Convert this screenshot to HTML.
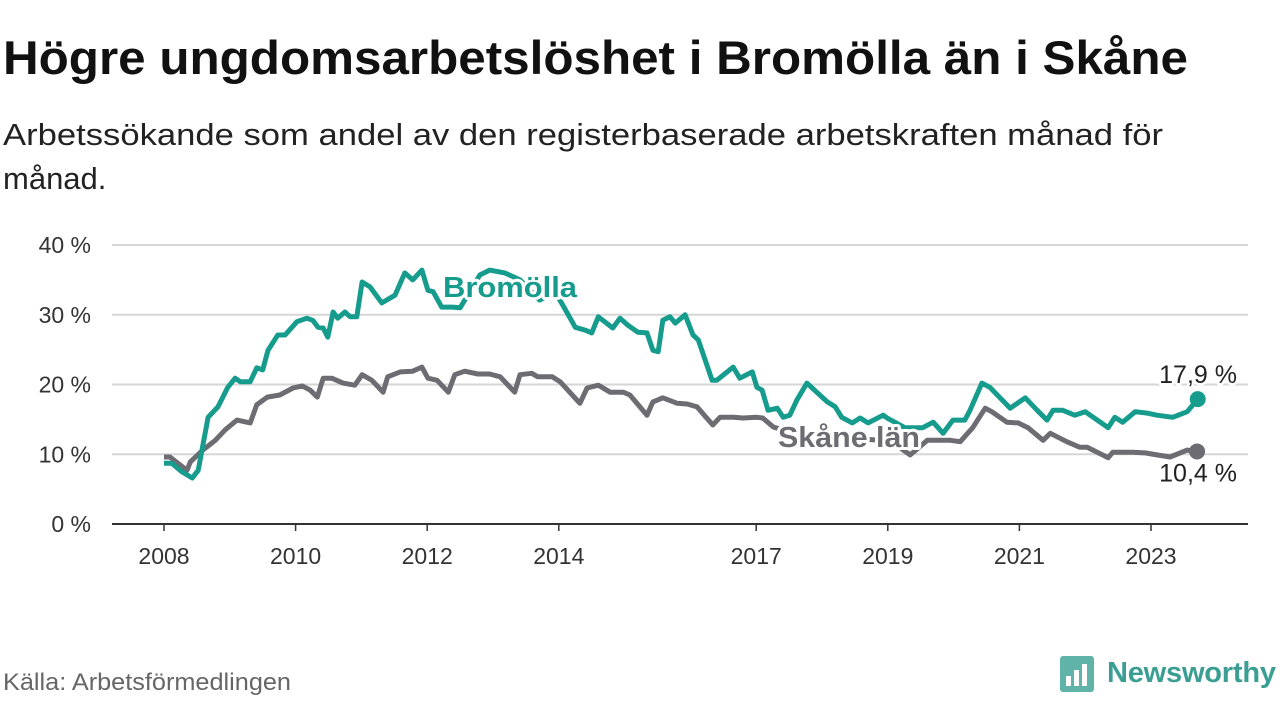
<!DOCTYPE html>
<html><head><meta charset="utf-8"><style>
body{margin:0;background:#fff;width:1280px;height:720px;overflow:hidden;font-family:"Liberation Sans",sans-serif}
</style></head><body>
<svg width="1280" height="720" viewBox="0 0 1280 720" xmlns="http://www.w3.org/2000/svg">
<text x="3" y="74" font-size="47" font-weight="bold" fill="#111" textLength="1185" lengthAdjust="spacingAndGlyphs">Högre ungdomsarbetslöshet i Bromölla än i Skåne</text>
<text x="3" y="145" font-size="31" fill="#222" textLength="1160" lengthAdjust="spacingAndGlyphs">Arbetssökande som andel av den registerbaserade arbetskraften månad för</text>
<text x="3" y="189" font-size="31" fill="#222">månad.</text>
<g id="grid"></g>
<g id="yticks"></g>
<g id="xticks"></g>
<g id="series"></g>
<text x="3" y="690" font-size="24" fill="#666" textLength="288" lengthAdjust="spacingAndGlyphs">Källa: Arbetsförmedlingen</text>
<g>
<rect x="1060" y="656" width="34" height="36" rx="3" fill="#5fb3a8"/>
<rect x="1066" y="676" width="5" height="10" fill="#fff"/><rect x="1074" y="670" width="5" height="16" fill="#fff"/><rect x="1082" y="664" width="5" height="22" fill="#fff"/>
<text x="1107" y="682" font-size="29" font-weight="bold" fill="#3a9e92" textLength="169">Newsworthy</text>
</g>
</svg>
<script>
const yTicks=[0,10,20,30,40];
const xTickYears=[2008,2010,2012,2014,2017,2019,2021,2023];
const bromDates=[2008.0,2008.12,2008.27,2008.43,2008.52,2008.67,2008.82,2008.97,2009.08,2009.16,2009.31,2009.41,2009.50,2009.58,2009.73,2009.84,2010.02,2010.17,2010.26,2010.34,2010.42,2010.49,2010.57,2010.64,2010.75,2010.83,2010.93,2011.01,2011.13,2011.31,2011.51,2011.66,2011.78,2011.92,2012.01,2012.09,2012.22,2012.38,2012.50,2012.80,2012.95,2013.18,2013.41,2013.71,2013.94,2014.06,2014.25,2014.40,2014.50,2014.60,2014.82,2014.93,2015.05,2015.20,2015.34,2015.43,2015.51,2015.58,2015.69,2015.77,2015.92,2016.04,2016.12,2016.33,2016.40,2016.65,2016.75,2016.94,2017.01,2017.09,2017.18,2017.32,2017.41,2017.51,2017.62,2017.77,2017.92,2018.08,2018.20,2018.30,2018.46,2018.58,2018.70,2018.93,2018.99,2019.26,2019.53,2019.69,2019.84,2019.99,2020.17,2020.25,2020.43,2020.55,2020.86,2021.09,2021.27,2021.42,2021.51,2021.66,2021.84,2022.00,2022.35,2022.45,2022.57,2022.76,2022.94,2023.09,2023.33,2023.55,2023.71];
const bromValues=[8.7,8.7,7.5,6.6,7.7,15.3,16.8,19.6,20.9,20.4,20.4,22.4,22.1,24.9,27.1,27.1,29.0,29.5,29.2,28.2,28.1,26.8,30.4,29.5,30.4,29.7,29.7,34.7,34.0,31.7,32.8,36.0,35.0,36.4,33.5,33.3,31.1,31.1,31.0,35.7,36.4,36.0,35.0,32.1,33.3,31.4,28.2,27.8,27.4,29.7,28.1,29.5,28.5,27.5,27.4,24.9,24.7,29.2,29.7,28.8,30.0,27.1,26.4,20.6,20.6,22.5,20.9,21.8,19.6,19.2,16.3,16.6,15.3,15.6,17.8,20.2,18.9,17.5,16.8,15.3,14.5,15.2,14.5,15.6,15.2,13.8,13.8,14.6,13.0,14.9,14.9,16.3,20.2,19.6,16.6,18.1,16.3,14.9,16.3,16.3,15.6,16.1,13.8,15.3,14.6,16.1,15.9,15.6,15.3,16.1,17.9];
const skaneDates=[2008.0,2008.09,2008.35,2008.40,2008.59,2008.78,2008.93,2009.11,2009.31,2009.41,2009.57,2009.76,2009.96,2010.10,2010.22,2010.33,2010.42,2010.55,2010.72,2010.90,2011.01,2011.16,2011.33,2011.40,2011.59,2011.78,2011.92,2012.01,2012.15,2012.32,2012.42,2012.57,2012.77,2012.95,2013.11,2013.33,2013.41,2013.59,2013.68,2013.90,2014.02,2014.32,2014.43,2014.60,2014.78,2014.98,2015.08,2015.34,2015.43,2015.58,2015.80,2015.95,2016.10,2016.34,2016.45,2016.65,2016.80,2017.01,2017.10,2017.26,2017.51,2017.97,2018.43,2018.88,2019.19,2019.34,2019.60,2019.95,2020.10,2020.29,2020.48,2020.58,2020.81,2020.98,2021.13,2021.36,2021.47,2021.72,2021.92,2022.03,2022.35,2022.42,2022.73,2022.91,2023.09,2023.29,2023.55,2023.70];
const skaneValues=[9.6,9.6,7.7,8.9,10.6,12.0,13.5,14.9,14.5,17.1,18.2,18.5,19.5,19.8,19.2,18.2,20.9,20.9,20.2,19.9,21.4,20.6,18.9,21.1,21.8,21.9,22.5,20.9,20.6,18.9,21.4,21.9,21.5,21.5,21.1,18.9,21.4,21.6,21.1,21.1,20.4,17.3,19.5,19.9,18.9,18.9,18.5,15.6,17.5,18.1,17.3,17.2,16.8,14.2,15.3,15.3,15.2,15.3,15.2,13.9,13.2,12.8,12.3,12.0,10.9,9.9,12.0,12.0,11.8,13.8,16.6,16.1,14.6,14.5,13.8,12.0,13.0,11.8,11.0,11.0,9.5,10.3,10.3,10.2,9.9,9.6,10.6,10.4];
const NS='http://www.w3.org/2000/svg';
const X=yr=>164+(yr-2008)*65.8;
const Y=v=>524-v*6.975;
function mk(tag,attrs,parent,text){const e=document.createElementNS(NS,tag);for(const k in attrs)e.setAttribute(k,attrs[k]);if(text!==undefined)e.textContent=text;parent.appendChild(e);return e;}
const grid=document.getElementById('grid'),yt=document.getElementById('yticks'),xt=document.getElementById('xticks'),ser=document.getElementById('series');
yTicks.forEach(v=>{
 if(v>0){const g=mk('line',{x1:112,x2:1248,y1:Y(v),y2:Y(v),stroke:'#d6d6d6','stroke-width':2},grid);
 
 }
 const t=mk('text',{x:91,y:Y(v)+8,'text-anchor':'end','font-size':23,fill:'#333'},yt,v+' %');
 
 
});
const ax=mk('line',{x1:112,x2:1248,y1:Y(0),y2:Y(0),stroke:'#333','stroke-width':2},xt);


xTickYears.forEach(yr=>{
 const tk=mk('line',{x1:X(yr),x2:X(yr),y1:Y(0),y2:Y(0)+7,stroke:'#333','stroke-width':1.5},xt);
 
 
 const t=mk('text',{x:X(yr),y:564,'text-anchor':'middle','font-size':23,fill:'#333'},xt,String(yr));
 
 
});
function line(dates,vals,color,name){
 const d=dates.map((t,i)=>(i?'L':'M')+X(t).toFixed(1)+' '+Y(vals[i]).toFixed(1)).join(' ');
 const p=mk('path',{d:d,fill:'none',stroke:color,'stroke-width':5,'stroke-linejoin':'round'},ser);
 
 
 const n=dates.length-1;
 const c=mk('circle',{cx:X(dates[n]),cy:Y(vals[n]),r:8,fill:color},ser);
 
 
}
line(skaneDates,skaneValues,'#6d6c72','skane');
line(bromDates,bromValues,'#169c8d','bromolla');
function lbl(x,y,txt,color,name,size,bold,anchor,len){
 const a={x:x,y:y,'font-size':size,'font-weight':bold?'bold':'normal',fill:color,stroke:'#fff','stroke-width':bold?6:5,'paint-order':'stroke','stroke-linejoin':'round','text-anchor':anchor||'start'};
 if(len){a.textLength=len;a.lengthAdjust='spacingAndGlyphs';}
 const t=mk('text',a,ser,txt);
 
 
}
lbl(443,297,'Bromölla','#169c8d','bromolla-label',29,true,'start',134);
lbl(778,447,'Skåne län','#6d6c72','skane-label',29,true,'start',142);
const nb=bromValues.length-1,ns=skaneValues.length-1;
lbl(1237,Y(bromValues[nb])-16,bromValues[nb].toFixed(1).replace('.',',')+' %','#222','bromolla-value-label',25,false,'end');
lbl(1237,Y(skaneValues[ns])+30,skaneValues[ns].toFixed(1).replace('.',',')+' %','#222','skane-value-label',25,false,'end');
</script>
</body></html>
